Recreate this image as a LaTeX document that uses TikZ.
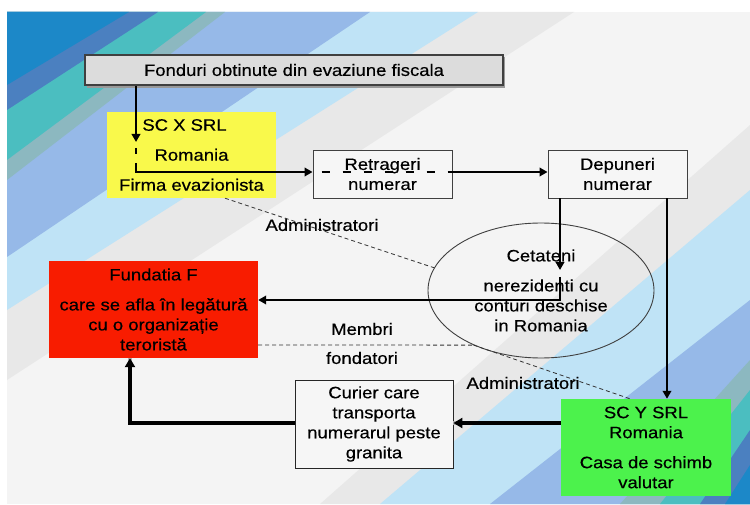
\documentclass[tikz,border=0pt]{standalone}
\usepackage{fontspec}
\setmainfont{Liberation Sans}[FakeStretch=1.12,FakeBold=0.4]
\usetikzlibrary{shapes.geometric,arrows.meta}

% background bands
\definecolor{bgbase}{HTML}{F4F4F4}
\definecolor{bandA}{HTML}{E8E8E8}
\definecolor{bandB}{HTML}{BFE3F6}
\definecolor{bandC}{HTML}{96B9E8}
\definecolor{bandD}{HTML}{8CB8C0}
\definecolor{bandE}{HTML}{4BBEC0}
\definecolor{bandF}{HTML}{4B80C0}
\definecolor{bandG}{HTML}{1C88C8}
% boxes
\definecolor{fondfill}{HTML}{DCDCDC}
\definecolor{boxfill}{HTML}{F6F6F6}
\definecolor{boxline}{HTML}{404040}
\definecolor{scxfill}{HTML}{F9F94B}
\definecolor{redfill}{HTML}{F81C00}
\definecolor{greenfill}{HTML}{4CF24C}
\definecolor{relline}{HTML}{333333}

\begin{document}
\begin{tikzpicture}[x=1pt,y=-1pt,
  txt/.style={font=\fontsize{16.5}{20}\selectfont, align=center, text=black},
  box/.style={txt, inner sep=0pt},
  framed/.style={box, draw=boxline, line width=0.9pt, fill=boxfill},
  flow/.style={line width=2.7pt, -{Triangle[length=8pt,width=8.5pt]}},
  plainflow/.style={line width=2.7pt},
  flowthick/.style={line width=3.8pt, -{Triangle[length=9pt,width=10pt]}},
  flowshadow/.style={line width=3.8pt, draw=black!30, shift={(1.5,1.5)}},
  thickdash/.style={line width=2.7pt, dash pattern=on 8pt off 13pt, dash phase=12pt},
  rel/.style={line width=0.8pt, draw=relline, dash pattern=on 4pt off 3pt}]

\useasboundingbox (0,0) rectangle (750,505);
\fill[white] (0,0) rectangle (750,505);

% ---- background with diagonal colour bands in two corners ----
\begin{scope}
  \clip (7,12) rectangle (750,504);
  \fill[bgbase] (7,12) rectangle (750,504);
  % top-left corner: band edge meets the top side at x = \edgetop, the left side at y = \edgeleft
  \foreach \edgetop/\edgeleft/\bandcol in {574/380/bandA, 478/310/bandB, 370/257/bandC,
                        225/180/bandD, 206/160/bandE, 158/110/bandF, 129/85/bandG}
    \fill[\bandcol] (7,12) -- (\edgetop,12) -- (7,\edgeleft) -- cycle;
  % bottom-right corner: band edge meets the right side at y = \edgeright, the bottom at x = \edgebottom
  \foreach \edgeright/\edgebottom/\bandcol in {125/320/bandA, 190/380/bandB, 300/490/bandC,
                        360/620/bandD, 390/660/bandE, 430/700/bandF, 465/725/bandG}
    \fill[\bandcol] (750,504) -- (750,\edgeright) -- (\edgebottom,504) -- cycle;
\end{scope}

% ---- boxes ----
\fill[black!40] (87,57) rectangle (505,88);
\node[box, draw=boxline, line width=1.5pt, fill=fondfill,
      minimum width=418pt, minimum height=30pt] (fond) at (294,70)
  {Fonduri obtinute din evaziune fiscala};

\node[box, fill=scxfill, minimum width=169pt, minimum height=86pt] (scx) at (191.5,155)
  {SC X SRL\kern14pt\relax\\[10pt]Romania\\[10pt]Firma evazionista};

\node[framed, minimum width=139pt, minimum height=48pt] (retr) at (382.5,174)
  {Retrageri\\numerar};

\node[framed, minimum width=139pt, minimum height=48pt] (dep) at (617.5,174)
  {Depuneri\\numerar};

\node[box, draw=boxline, line width=0.9pt, ellipse,
      minimum width=226pt, minimum height=135pt] (ell) at (541,290.5)
  {Cetateni\\[10pt]nerezidenti cu\\conturi deschise\\in Romania};

\node[box, fill=redfill, minimum width=209pt, minimum height=97pt] (fund) at (153.5,309.5)
  {Fundatia F\\[10pt]care se afla în legătură\\cu o organizație\\teroristă};

\node[framed, draw=black!85, minimum width=158pt, minimum height=88pt] (cur) at (374,424)
  {Curier care\\transporta\\numerarul peste\\granita};

\node[box, fill=greenfill, minimum width=170pt, minimum height=97pt] (scy) at (646,447.5)
  {SC Y SRL\\Romania\\[10pt]Casa de schimb\\valutar};

% ---- relation labels ----
\node[txt] (adm1) at (322,225) {Administratori};
\node[txt] (memb) at (362,329) {Membri};
\node[txt] (fond2) at (362,358) {fondatori};
\node[txt] (adm2) at (523,383) {Administratori};

% ---- dashed relations ----
\coordinate (sa) at (225,0);
\draw[rel] (scx.south -| sa) -- (ell.168);
\coordinate (mf) at (0,345);
\draw[rel] (fund.east |- mf) -- (ell.219);
\coordinate (ga) at (630,0);
\draw[rel] (ell.219) -- (scy.north -| ga);

% ---- money flow ----
\coordinate (fa) at (136,142);
\draw[flow] (fond.south -| fa) -- (fa);
\coordinate (fb1) at (136,148);
\coordinate (fb2) at (136,154);
\draw[plainflow] (fb1) -- (fb2);
\coordinate (fc) at (136,163);
\coordinate (fcorner) at (136,172);
\draw[flow] (fc) -- (fcorner) -- (retr.west |- fcorner);
\draw[thickdash] (retr.west |- fcorner) -- (retr.east |- fcorner);
\draw[flow] (retr.east |- fcorner) -- (dep.west |- fcorner);

\coordinate (da) at (560,270);
\draw[flow] (dep.south -| da) -- (da);
\coordinate (db) at (560,277);
\coordinate (dcorner) at (560,300);
\draw[flow] (db) -- (dcorner) -- (fund.east |- dcorner);

\coordinate (dy) at (667,0);
\draw[flow] (dep.south -| dy) -- (scy.north -| dy);

\coordinate (cy) at (0,423);
\coordinate (ccorner) at (130,423);
\draw[flowshadow] (scy.west |- cy) -- (cur.east |- cy);
\draw[flowshadow] (cur.west |- cy) -- (ccorner) -- (fund.south -| ccorner);
\draw[flowthick] (scy.west |- cy) -- (cur.east |- cy);
\draw[flowthick] (cur.west |- cy) -- (ccorner) -- (fund.south -| ccorner);

\end{tikzpicture}
\end{document}
